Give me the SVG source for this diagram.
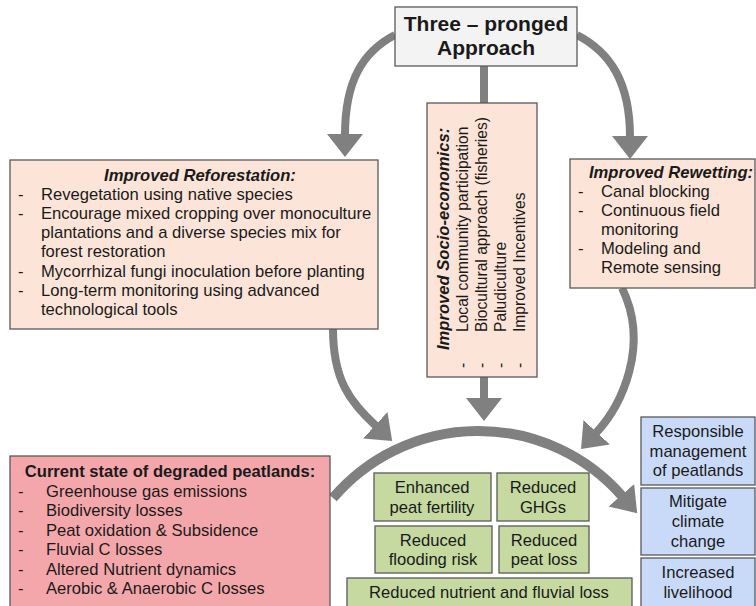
<svg xmlns="http://www.w3.org/2000/svg" width="756" height="606" viewBox="0 0 756 606">
<defs>
<style>
text{font-family:"Liberation Sans",Arial,sans-serif;fill:#1a1a1a;font-size:16.6px}
.b{font-weight:bold}
.bi{font-weight:bold;font-style:italic}
.c{text-anchor:middle}
.s{font-size:15.6px}
.box{stroke:#595959;stroke-width:1.3}
.peach{fill:#fce5d8}
.pink{fill:#f4a7ab}
.green{fill:#c5d9a0}
.blue{fill:#c9daf8}
.con{fill:none;stroke:#808080;stroke-width:8}
</style>
<marker id="ah" markerUnits="userSpaceOnUse" markerWidth="30" markerHeight="40" viewBox="0 -20 30 40" refX="1" refY="0" orient="auto">
<path d="M0,-18 L23,0 L0,18 z" fill="#808080"/>
</marker>
<marker id="ah2" markerUnits="userSpaceOnUse" markerWidth="30" markerHeight="40" viewBox="0 -20 30 40" refX="1" refY="0" orient="auto">
<path d="M0,-17 L24,0 L0,17 z" fill="#808080"/>
</marker>
</defs>
<rect width="756" height="606" fill="#ffffff"/>

<g id="connectors">
<line class="con" x1="484" y1="66" x2="484" y2="104"/>
<path class="con" d="M395,35 C362,52 345,82 345,135" marker-end="url(#ah)"/>
<path class="con" d="M577,35 C610,52 630,82 630,137" marker-end="url(#ah)"/>
<line class="con" x1="484" y1="377" x2="484" y2="399" marker-end="url(#ah)"/>
<path class="con" d="M333,329 C333,380 350,402 376,426" marker-end="url(#ah)"/>
<path class="con" d="M622,288 C650,345 622,405 596,433" marker-end="url(#ah)"/>
<path class="con" style="stroke-width:10" d="M333,498 A191,191 0 0 1 622,496" marker-end="url(#ah2)"/>
</g>

<g id="title">
<rect class="box" x="395" y="7" width="182" height="59" fill="#f3f3f3"/>
<text class="b c" x="486" y="31" style="font-size:21px">Three – pronged</text>
<text class="b c" x="486" y="55" style="font-size:21px">Approach</text>
</g>

<g id="reforestation">
<rect class="box peach" x="10" y="160" width="368" height="169"/>
<text class="bi c" x="200" y="181">Improved Reforestation:</text>
<text x="18" y="200">-</text><text x="41" y="200">Revegetation using native species</text>
<text x="18" y="219">-</text><text x="41" y="219">Encourage mixed cropping over monoculture</text>
<text x="41" y="238">plantations and a diverse species mix for</text>
<text x="41" y="257">forest restoration</text>
<text x="18" y="277">-</text><text x="41" y="277">Mycorrhizal fungi inoculation before planting</text>
<text x="18" y="296">-</text><text x="41" y="296">Long-term monitoring using advanced</text>
<text x="41" y="315">technological tools</text>
</g>

<g id="socioeconomics">
<rect class="box peach" x="427" y="103" width="110" height="274"/>
<text class="bi" transform="translate(449,350) rotate(-90)">Improved Socio-economics:</text>
<text class="s" transform="translate(468,368) rotate(-90)">-</text><text class="s" transform="translate(468,332) rotate(-90)">Local community participation</text>
<text class="s" transform="translate(487,368) rotate(-90)">-</text><text class="s" transform="translate(487,332) rotate(-90)">Biocultural approach (fisheries)</text>
<text class="s" transform="translate(506,368) rotate(-90)">-</text><text class="s" transform="translate(506,332) rotate(-90)">Paludiculture</text>
<text class="s" transform="translate(525,368) rotate(-90)">-</text><text class="s" transform="translate(525,332) rotate(-90)">Improved Incentives</text>
</g>

<g id="rewetting">
<rect class="box peach" x="570" y="159" width="185" height="129"/>
<text class="bi" x="589" y="178">Improved Rewetting:</text>
<text x="578" y="197">-</text><text x="601" y="197">Canal blocking</text>
<text x="578" y="216">-</text><text x="601" y="216">Continuous field</text>
<text x="601" y="235">monitoring</text>
<text x="578" y="254">-</text><text x="601" y="254">Modeling and</text>
<text x="601" y="273">Remote sensing</text>
</g>

<g id="current-state">
<rect class="box pink" x="10" y="456" width="320" height="160"/>
<text class="b c" x="170" y="477">Current state of degraded peatlands:</text>
<text x="18" y="497">-</text><text x="46" y="497">Greenhouse gas emissions</text>
<text x="18" y="516">-</text><text x="46" y="516">Biodiversity losses</text>
<text x="18" y="536">-</text><text x="46" y="536">Peat oxidation &amp; Subsidence</text>
<text x="18" y="555">-</text><text x="46" y="555">Fluvial C losses</text>
<text x="18" y="575">-</text><text x="46" y="575">Altered Nutrient dynamics</text>
<text x="18" y="594">-</text><text x="46" y="594">Aerobic &amp; Anaerobic C losses</text>
</g>

<g id="enhanced-fertility">
<rect class="box green" x="374" y="473" width="117" height="48"/>
<text class="c" x="432" y="493">Enhanced</text>
<text class="c" x="432" y="513">peat fertility</text>
</g>
<g id="reduced-ghgs">
<rect class="box green" x="497" y="473" width="92" height="48"/>
<text class="c" x="543" y="493">Reduced</text>
<text class="c" x="543" y="513">GHGs</text>
</g>
<g id="reduced-flooding">
<rect class="box green" x="375" y="526" width="117" height="47"/>
<text class="c" x="433" y="546">Reduced</text>
<text class="c" x="433" y="565">flooding risk</text>
</g>
<g id="reduced-peat-loss">
<rect class="box green" x="499" y="526" width="90" height="47"/>
<text class="c" x="544" y="546">Reduced</text>
<text class="c" x="544" y="565">peat loss</text>
</g>
<g id="reduced-nutrient">
<rect class="box green" x="347" y="578" width="285" height="35"/>
<text class="c" x="489" y="598">Reduced nutrient and fluvial loss</text>
</g>

<g id="responsible-management">
<rect class="box blue" x="641" y="417" width="114" height="68"/>
<text class="c" x="698" y="437">Responsible</text>
<text class="c" x="698" y="457">management</text>
<text class="c" x="698" y="476">of peatlands</text>
</g>
<g id="mitigate-climate">
<rect class="box blue" x="641" y="488" width="114" height="67"/>
<text class="c" x="698" y="507">Mitigate</text>
<text class="c" x="698" y="527">climate</text>
<text class="c" x="698" y="547">change</text>
</g>
<g id="increased-livelihood">
<rect class="box blue" x="641" y="558" width="114" height="55"/>
<text class="c" x="698" y="578">Increased</text>
<text class="c" x="698" y="598">livelihood</text>
</g>
</svg>
